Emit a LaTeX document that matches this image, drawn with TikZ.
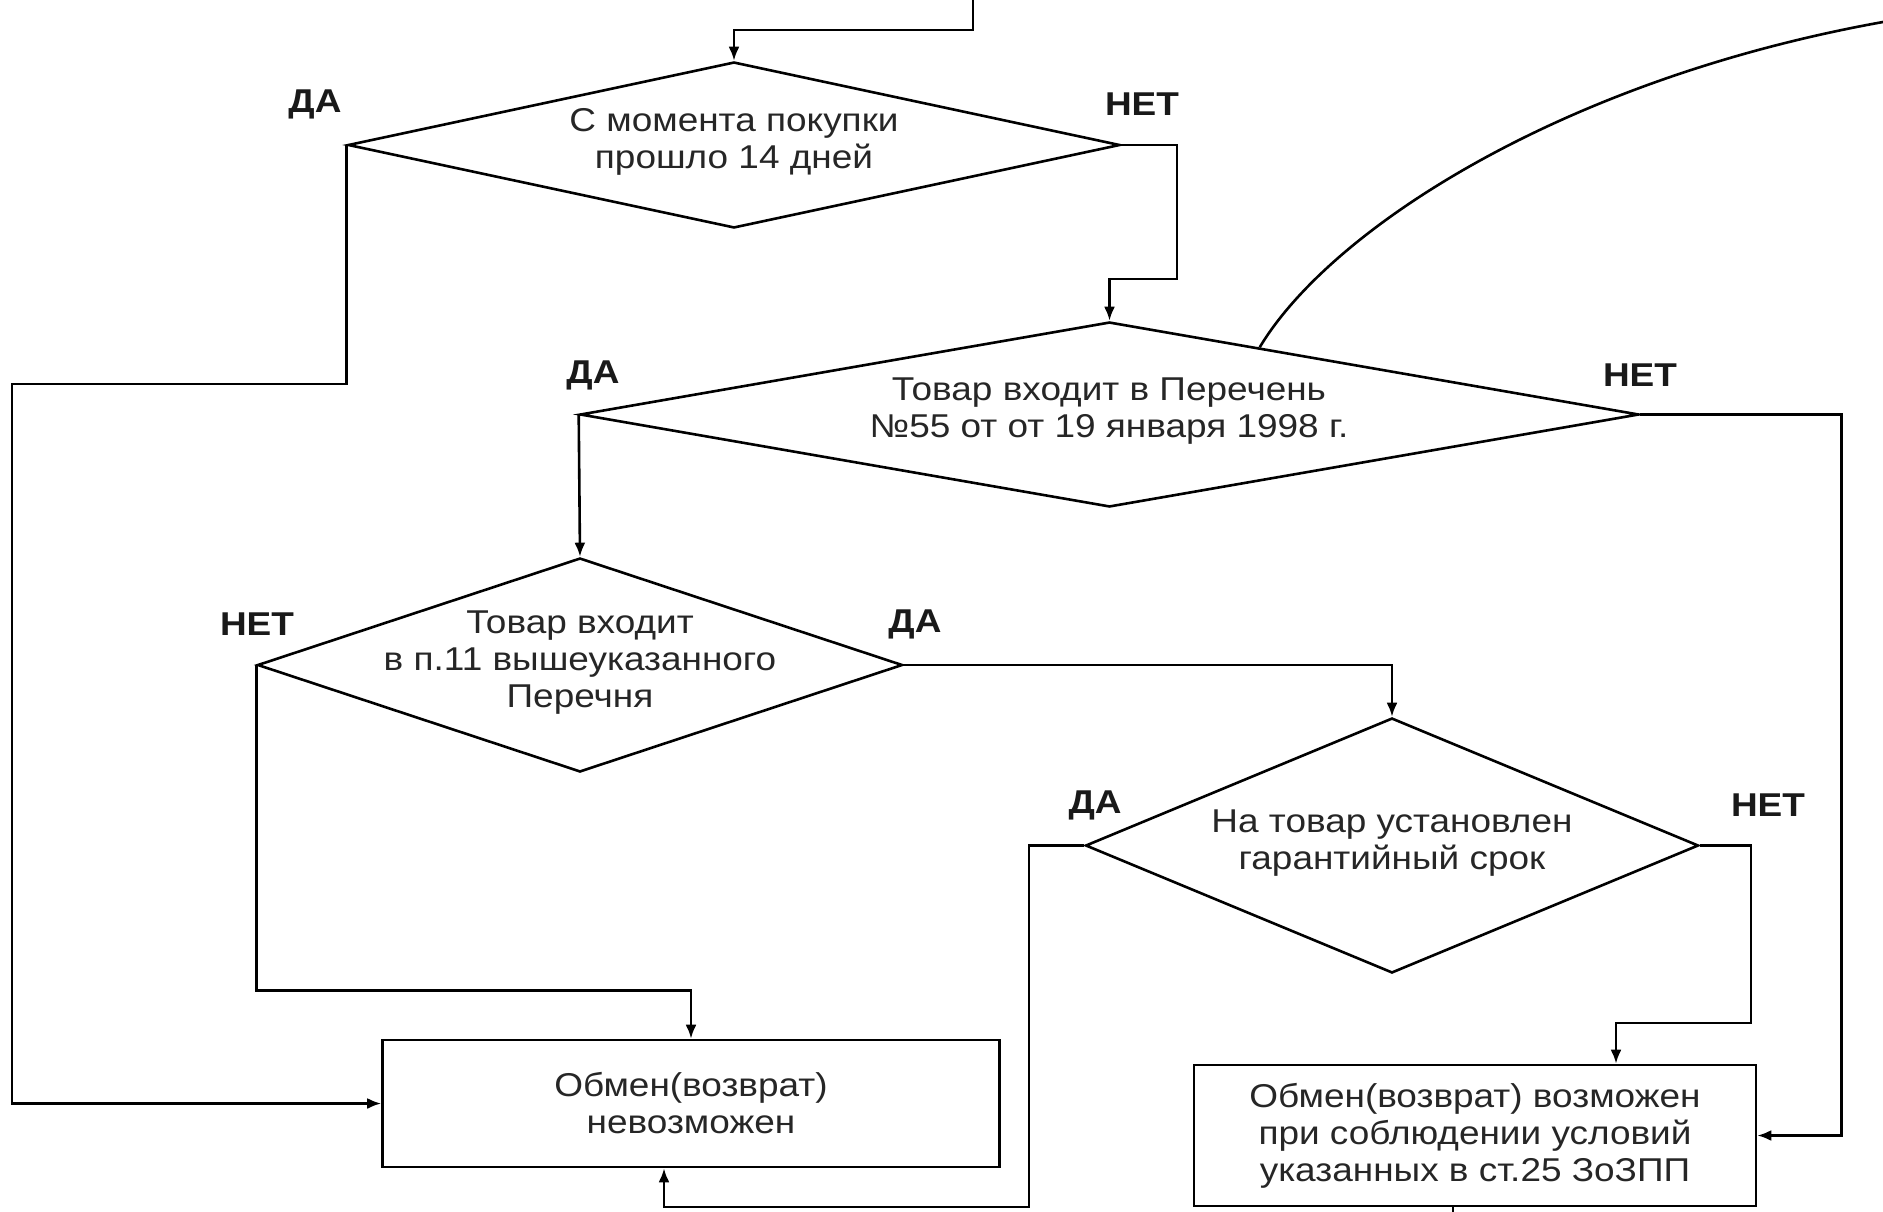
\documentclass[tikz,border=0pt]{standalone}
\usepackage{fontspec}
\setmainfont{Liberation Sans}[FakeStretch=1.12]
\usetikzlibrary{shapes.geometric,arrows.meta,calc}
\begin{document}
\begin{tikzpicture}[x=1pt,y=-1pt,
  line/.style={line width=2.6pt, draw=black},
  arr/.style={line, -{Latex[length=14pt,width=11pt]}},
  dia/.style={diamond, draw=black, line width=2.6pt, inner sep=0pt},
  txt/.style={align=center, inner sep=0pt, font=\fontsize{33}{37}\selectfont, text=black!85},
  lbl/.style={inner sep=0pt, font=\bfseries\fontsize{33}{37}\selectfont, text=black!90},
  box/.style={rectangle, draw=black, line width=2.6pt, inner sep=0pt, align=center,
              font=\fontsize{33}{37}\selectfont, text=black!85}]
\useasboundingbox (0,0) rectangle (1883,1211);

% diamonds
\node[dia, minimum width=772pt, minimum height=166pt] (d1) at (734,145) {};
\node[txt] (t1) at (734,142) {С момента покупки\\прошло 14 дней};

\node[dia, minimum width=1059pt, minimum height=185pt] (d2) at (1109.5,414.5) {};
\node[txt] (t2) at (1109,411) {Товар входит в Перечень\\№55 от от 19 января 1998 г.};

\node[dia, minimum width=645pt, minimum height=214pt] (d3) at (580,665) {};
\node[txt] (t3) at (580,663) {Товар входит\\в п.11 вышеуказанного\\Перечня};

\node[dia, minimum width=613pt, minimum height=255pt] (d4) at (1392,845.5) {};
\node[txt] (t4) at (1392,843) {На товар установлен\\гарантийный срок};

% boxes
\node[box, minimum width=617pt, minimum height=127pt] (b1) at (691,1103.5) {Обмен(возврат)\\невозможен};
\node[box, minimum width=562pt, minimum height=141pt] (b2) at (1475,1135.5) {Обмен(возврат) возможен\\при соблюдении условий\\указанных в ст.25 ЗоЗПП};

% labels
\node[lbl] (l1) at (315,104) {ДА};
\node[lbl] (l2) at (1142,104) {НЕТ};
\node[lbl] (l3) at (593,375) {ДА};
\node[lbl] (l4) at (1640,375) {НЕТ};
\node[lbl] (l5) at (257,624) {НЕТ};
\node[lbl] (l6) at (915,624) {ДА};
\node[lbl] (l7) at (1095,805) {ДА};
\node[lbl] (l8) at (1768,805) {НЕТ};

% free ends
\coordinate (topin) at (973,0);
\coordinate (curveend) at (1883,22);

% connectors
\draw[arr] (topin) -- (973,30) -| (d1.north);
\draw[arr] (d1.east) -| (1177,279) -| (d2.north);
\draw[arr] (d1.west) |- (12,384) |- (b1.west);
\draw[arr] (d2.west) -- (d3.north);
\draw[arr] (d3.east) -| (d4.north);
\draw[arr] (d3.west) |- ([yshift=48pt]b1.north) -- (b1.north);
\draw[arr] (d4.west) -| (1029,1207) -| ([xshift=-27pt]b1.south);
\draw[arr] (d4.east) -| (1751,1023) -| ([xshift=141pt]b2.north);
\draw[arr] (d2.east) -| ([xshift=84pt]b2.east) -- (b2.east);
\draw[line] ([xshift=-22pt]b2.south) -- ++(0,8);
\draw[line] ($(d2.north)!0.283!(d2.east)$) .. controls (1330,230) and (1560,80) .. (curveend);
\end{tikzpicture}
\end{document}
